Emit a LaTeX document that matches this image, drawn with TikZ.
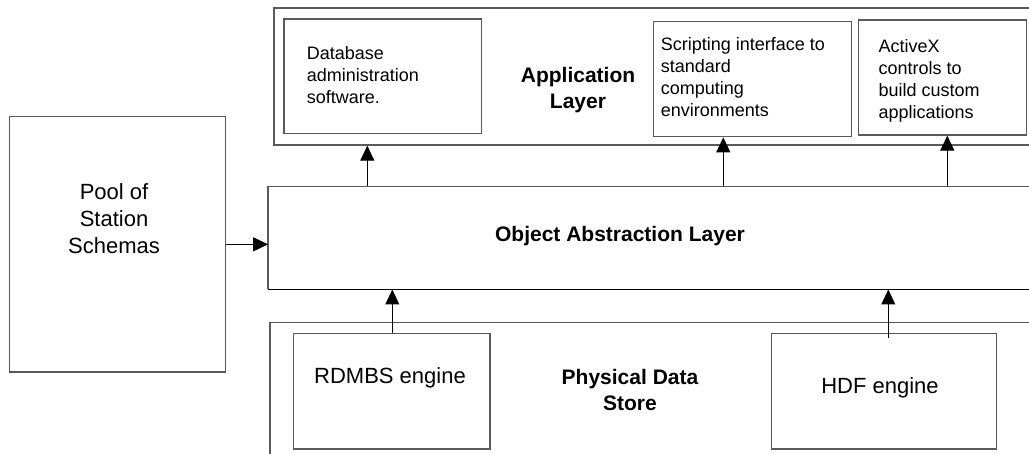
\documentclass[tikz,border=0pt]{standalone}
\usepackage{fontspec}
\setmainfont{Liberation Sans}
\usetikzlibrary{arrows.meta}
\definecolor{boxgray}{HTML}{5A5A5A}
\tikzset{
  box/.style={draw=boxgray, line width=1.3pt, fill=none, inner sep=0pt},
  arr/.style={draw=black, line width=1pt, -{Triangle[length=15pt,width=14pt]}},
  small/.style={font=\fontsize{18}{22}\selectfont, align=left, inner sep=0pt, anchor=west},
  big/.style={font=\fontsize{22}{27}\selectfont, align=center, inner sep=0pt},
  bold/.style={font=\fontsize{21}{26}\selectfont\bfseries, align=center, inner sep=0pt}
}
\begin{document}
\begin{tikzpicture}[x=1pt,y=-1pt]
\useasboundingbox (0,0) rectangle (1029,454);
\clip (0,0) rectangle (1029,454);
\fill[white] (0,0) rectangle (1029,454);
% pool
\node[box, minimum width=216pt, minimum height=255.3pt] (pool) at (117.3,244.35) {};
\node[big] (pooltxt) at (114,218.5) {Pool of\\Station\\Schemas};

% application layer
\node[box, minimum width=766pt, minimum height=137pt] (app) at (657,76.5) {};
\node[box, minimum width=197.6pt, minimum height=114.3pt] (db) at (382.8,76.15) {};
\node[box, minimum width=198.4pt, minimum height=115pt] (script) at (752.5,79.2) {};
\node[box, minimum width=168.4pt, minimum height=115pt] (activex) at (942.5,77.5) {};
\node[small] (dbtxt) at (306.7,74.8) {Database\\administration\\software.};
\node[small] (scripttxt) at (660.7,77.5) {Scripting interface to\\standard\\computing\\environments};
\node[small] (activextxt) at (878.3,80.8) {ActiveX\\controls to\\build custom\\applications};
\node[bold] (apptxt) at (578,90) {Application\\Layer};

% object abstraction layer
\node[inner sep=0pt, minimum width=771.7pt, minimum height=102.6pt] (oal) at (654.15,238) {};
\draw[draw=boxgray, line width=1.3pt] (oal.south east) -- (oal.north east) -- (oal.north west) -- (oal.south west);
\draw[draw=black, line width=1.3pt] (oal.south west) -- (oal.south east);
\node[bold] (oaltxt) at (620,236) {Object Abstraction Layer};

% physical data store
\node[box, minimum width=770pt, minimum height=147.3pt] (pds) at (655,396.35) {};
\node[box, minimum width=196.7pt, minimum height=115.7pt] (rdbms) at (391.65,391.15) {};
\node[box, minimum width=225pt, minimum height=115.7pt] (hdf) at (884.2,391.15) {};
\node[big] (rdbmstxt) at (390,378) {RDMBS engine};
\node[big] (hdftxt) at (880,388) {HDF engine};
\node[bold] (pdstxt) at (630,390) {Physical Data\\Store};

% arrow x positions
\coordinate (x1) at (367.3,0);
\coordinate (x2) at (723.3,0);
\coordinate (x3) at (947.3,0);
\coordinate (x4) at (392.3,0);
\coordinate (x5) at (888.3,0);

\draw[arr] (pool.east) -- (pool.east -| oal.west);
\draw[arr] (oal.north -| x1) -- (app.south -| x1);
\draw[arr] (oal.north -| x2) -- (script.south -| x2);
\draw[arr] (oal.north -| x3) -- (activex.south -| x3);
\draw[arr] (rdbms.north -| x4) -- (oal.south -| x4);
\draw[arr] ([yshift=-5pt]hdf.north -| x5) -- (oal.south -| x5);
\end{tikzpicture}
\end{document}
